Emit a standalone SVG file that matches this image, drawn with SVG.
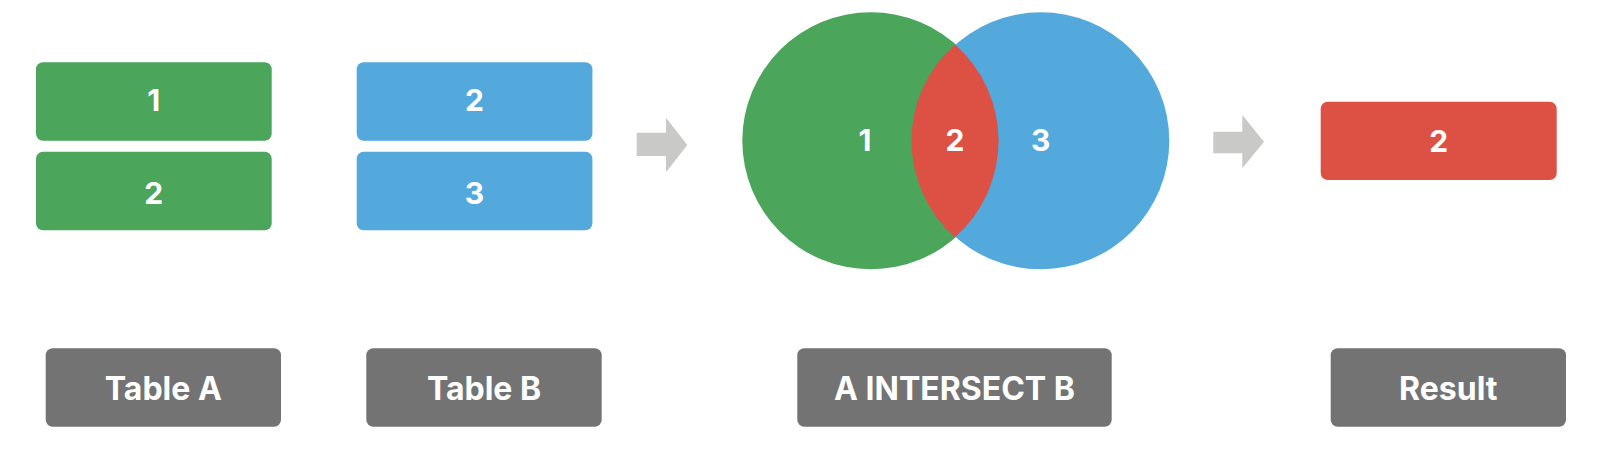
<svg xmlns="http://www.w3.org/2000/svg" width="1614" height="462" viewBox="0 0 1614 462">
<style>
.g{fill:#4BA55B}
.b{fill:#53A8DC}
.r{fill:#DC5143}
.lab{fill:#737373}
.arr{fill:#C9C9C7}
.num{font-family:Inter,"Liberation Sans",sans-serif;font-weight:700;font-size:30px;fill:#fff;text-anchor:middle}
.t{font-family:Inter,"Liberation Sans",sans-serif;font-weight:700;font-size:32px;fill:#fff;text-anchor:middle}
</style>
<rect width="1614" height="462" fill="#fff"/>
<g id="tableA">
<g id="a1"><rect class="g" x="36" y="62.3" width="235.7" height="78.4" rx="7"/><text class="num" x="153.8" y="111">1</text></g>
<g id="a2"><rect class="g" x="36" y="151.7" width="235.7" height="78.6" rx="7"/><text class="num" x="153.8" y="203.5">2</text></g>
</g>
<g id="tableB">
<g id="b2"><rect class="b" x="356.7" y="62.3" width="235.7" height="78.4" rx="7"/><text class="num" x="474.5" y="111">2</text></g>
<g id="b3"><rect class="b" x="356.7" y="151.7" width="235.7" height="78.6" rx="7"/><text class="num" x="474.5" y="203.5">3</text></g>
</g>
<g id="connectors">
<path class="arr" d="M636.7 132.7 H666 V117.7 L687.3 145 L666 172.3 V156 H636.7 Z"/>
<path class="arr" d="M1213.3 131.7 H1242.3 V115 L1264 141.7 L1242.3 168.3 V153.3 H1213.3 Z"/>
</g>
<g id="venn">
<circle class="g" cx="870.8" cy="140.8" r="128.5"/>
<circle class="b" cx="1040.8" cy="140.8" r="128.5"/>
<path class="r" d="M955 44.4 A128.5 128.5 0 0 1 955 237.2 A128.5 128.5 0 0 1 955 44.4 Z"/>
<text class="num" x="865" y="151">1</text>
<text class="num" x="955" y="151">2</text>
<text class="num" x="1040.7" y="151">3</text>
</g>
<g id="result"><rect class="r" x="1320.7" y="101.7" width="236" height="78.3" rx="7"/><text class="num" x="1438.7" y="151.5">2</text></g>
<g id="labelA"><rect class="lab" x="45.7" y="348.3" width="235.3" height="78.4" rx="7"/><text class="t" x="163.3" y="399.5">Table A</text></g>
<g id="labelB"><rect class="lab" x="366.3" y="348.3" width="235.4" height="78.4" rx="7"/><text class="t" x="484" y="399.5">Table B</text></g>
<g id="labelI"><rect class="lab" x="797.3" y="348.3" width="314.4" height="78.4" rx="7"/><text class="t" x="954.5" y="399.5">A INTERSECT B</text></g>
<g id="labelR"><rect class="lab" x="1330.7" y="348.3" width="235.3" height="78.4" rx="7"/><text class="t" x="1448.3" y="399.5">Result</text></g>
</svg>
